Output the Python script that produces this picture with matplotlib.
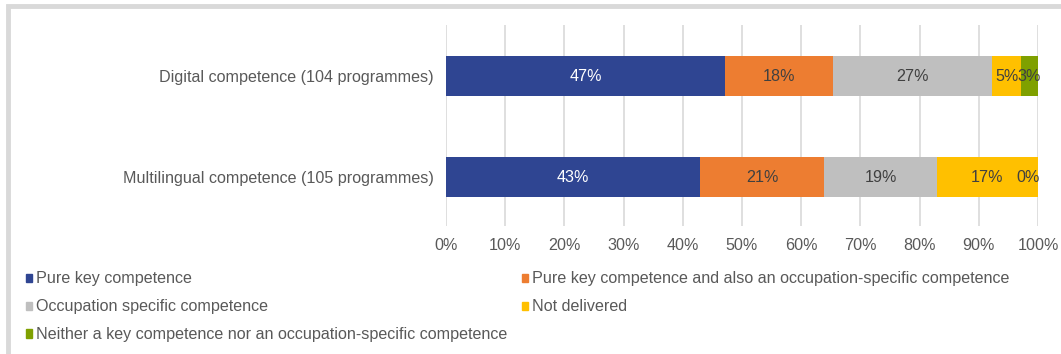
import matplotlib.pyplot as plt
from matplotlib.patches import Rectangle, Patch
import numpy as np

plt.rcParams['font.family'] = ['Liberation Sans', 'DejaVu Sans']

categories = ['Digital competence (104 programmes)', 'Multilingual competence (105 programmes)']
series_names = ['Pure key competence',
                'Pure key competence and also an occupation-specific competence',
                'Occupation specific competence',
                'Not delivered',
                'Neither a key competence nor an occupation-specific competence']
# shares in percent (counts / programmes)
pure_key = [47.1, 42.9]
key_and_occ = [18.3, 21.0]
occ_specific = [26.9, 19.0]
not_delivered = [4.8, 17.1]
neither = [2.9, 0.0]
labels = [['47%', '43%'], ['18%', '21%'], ['27%', '19%'], ['5%', '17%'], ['3%', '0%']]

colors = ['#2F4592', '#ED7D31', '#BFBFBF', '#FFC000', '#7FA000']
text_colors = ['white', '#404040', '#404040', '#404040', '#404040']
fs = 11.6

fig = plt.figure(figsize=(10.61, 3.54), dpi=100)
ax = fig.add_axes([446 / 1061, 1 - 226 / 354, 592 / 1061, 201 / 354])

y = np.arange(len(categories))
left = np.zeros(len(categories))
handles = []
for i, vals in enumerate([pure_key, key_and_occ, occ_specific, not_delivered, neither]):
    vals = np.array(vals)
    bars = ax.barh(y, vals, left=left, height=0.4, color=colors[i], zorder=3)
    for j, b in enumerate(bars):
        cx = left[j] + vals[j] / 2
        if vals[j] == 0:
            cx = left[j] - 1.7
        ax.text(cx, y[j], labels[i][j], ha='center', va='center',
                color=text_colors[i], fontsize=fs, zorder=4)
    left += vals
    handles.append(Patch(color=colors[i]))

ax.set_xlim(0, 100)
ax.set_ylim(1.485, -0.505)
ax.set_xticks(np.arange(0, 101, 10))
ax.set_xticklabels([f'{v}%' for v in range(0, 101, 10)])
ax.set_yticks(y)
ax.set_yticklabels(categories)
ax.tick_params(length=0, labelsize=fs, colors='#595959')
ax.tick_params(axis='y', pad=9)
ax.tick_params(axis='x', pad=9)
ax.grid(axis='x', color='#D9D9D9', linewidth=1.2, zorder=0)
for s in ax.spines.values():
    s.set_visible(False)

order = [0, 2, 4, 1, 3]
fig.legend([handles[k] for k in order], [series_names[k] for k in order],
           ncol=2, loc='upper left', bbox_to_anchor=(11 / 1061, 1 - 257 / 354),
           frameon=False, fontsize=fs, handlelength=0.4, handleheight=0.4,
           handletextpad=0.25, columnspacing=0.9, labelspacing=0.8,
           labelcolor='#595959')

# outer border (top and left edges visible)
fig.patches.append(Rectangle((7.5 / 1061, -0.5), 2, 0.5 + 1 - 6 / 354,
                             transform=fig.transFigure, fill=False,
                             edgecolor='#D9D9D9', linewidth=3.5))

fig.savefig('out.png', dpi=100)
